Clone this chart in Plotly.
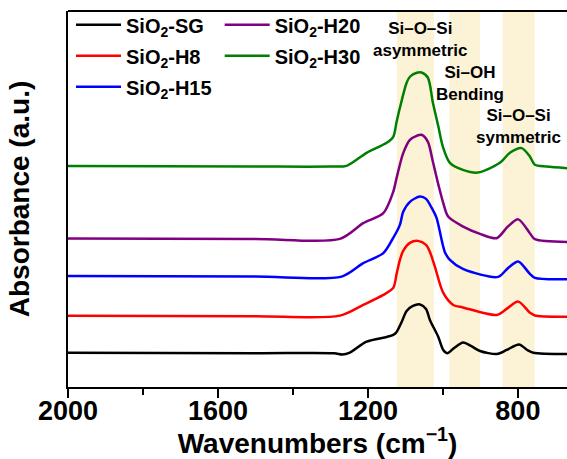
import plotly.graph_objects as go

# ---------------- data ----------------
names = ["SiO<sub>2</sub>-SG", "SiO<sub>2</sub>-H8", "SiO<sub>2</sub>-H15",
         "SiO<sub>2</sub>-H20", "SiO<sub>2</sub>-H30"]
colors = ["#000000", "#ff0000", "#0000ff", "#800080", "#008000"]

wn_sg = [2000, 1500, 1290, 1268, 1250, 1203.5, 1150, 1132.5, 1123.5, 1110, 1096.8, 1080, 1061,
         1045, 1034.7, 1012.5, 999, 988, 970, 946, 925, 901, 856, 830, 797, 775, 759, 669]
ab_sg = [0.343, 0.337, 0.337, 0.325, 0.34, 0.453, 0.50, 0.52, 0.55, 0.65, 0.76, 0.81, 0.825,
         0.78, 0.67, 0.503, 0.37, 0.337, 0.39, 0.445, 0.41, 0.36, 0.33, 0.37, 0.425, 0.37, 0.343, 0.33]

wn_h8 = [2000, 1500, 1274.7, 1212.5, 1159, 1132.5, 1123.5, 1114.7, 1105.9, 1088, 1066.7, 1045,
         1034.7, 1022, 999, 972.5, 946.7, 856.8, 830, 799, 768, 754.7, 669]
ab_h8 = [0.713, 0.707, 0.713, 0.82, 0.92, 0.99, 1.13, 1.27, 1.36, 1.44, 1.46, 1.42,
         1.35, 1.21, 0.94, 0.82, 0.795, 0.72, 0.78, 0.853, 0.743, 0.715, 0.703]

wn_h15 = [2000, 1500, 1270, 1212.5, 1159, 1132.5, 1114.7, 1105.9, 1088, 1061.3, 1045, 1030,
          1017, 995, 981.3, 946.7, 853, 826, 799, 768, 754.7, 669]
ab_h15 = [1.11, 1.103, 1.103, 1.237, 1.337, 1.49, 1.62, 1.75, 1.85, 1.903, 1.88, 1.79,
          1.69, 1.35, 1.27, 1.18, 1.10, 1.19, 1.255, 1.13, 1.09, 1.077]

wn_h20 = [2000, 1500, 1274.7, 1212.5, 1159, 1132.5, 1123.5, 1105.9, 1088, 1070, 1056.8, 1040,
          1026.7, 1012, 999, 986, 946, 901, 856.8, 826.7, 799, 768, 754.7, 669]
ab_h20 = [1.483, 1.48, 1.48, 1.637, 1.737, 1.95, 2.09, 2.337, 2.47, 2.51, 2.52, 2.45,
          2.25, 2.02, 1.837, 1.703, 1.603, 1.53, 1.487, 1.603, 1.675, 1.537, 1.477, 1.45]

wn_h30 = [2000, 1500, 1300, 1257, 1203.5, 1150, 1132.5, 1123.5, 1114.7, 1096.8, 1088, 1070,
          1056.8, 1040, 1026.7, 1012, 1000, 981.3, 946.7, 906.7, 848, 821.3, 790, 768, 754.7,
          723.5, 669]
ab_h30 = [2.207, 2.203, 2.203, 2.21, 2.34, 2.44, 2.50, 2.65, 2.79, 3.04, 3.10, 3.14,
          3.143, 3.09, 2.84, 2.60, 2.40, 2.24, 2.17, 2.143, 2.24, 2.34, 2.387, 2.303, 2.22,
          2.203, 2.187]

band_lo = [1024, 901, 755]
band_hi = [1123, 983, 841]

label_text = ["Si–O–Si<br>asymmetric", "Si–OH<br>Bending", "Si–O–Si<br>symmetric"]
label_wn = [1061, 928, 798]
label_ab = [3.47, 3.035, 2.6]

x_ticks = [2000, 1600, 1200, 800]

# ---------------- figure ----------------
FONT = "Liberation Sans, Arial, sans-serif"
series_wn = [wn_sg, wn_h8, wn_h15, wn_h20, wn_h30]
series_ab = [ab_sg, ab_h8, ab_h15, ab_h20, ab_h30]
legend_of = ["legend", "legend", "legend", "legend2", "legend2"]

fig = go.Figure()
for i in range(5):
    fig.add_trace(go.Scatter(
        x=series_wn[i], y=series_ab[i], mode="lines", name=names[i],
        line=dict(color=colors[i], width=2.5, shape="spline", smoothing=0.8),
        legend=legend_of[i], legendgroup=str(i),
    ))

for lo, hi in zip(band_lo, band_hi):
    fig.add_shape(type="rect", xref="x", yref="paper", x0=hi, x1=lo, y0=0, y1=1,
                  fillcolor="rgb(252,243,214)", line=dict(width=0), layer="below")

# top frame line
fig.add_shape(type="line", xref="paper", yref="paper", x0=0, x1=1, y0=1, y1=1,
              line=dict(color="black", width=2))

for t, xw, ya in zip(label_text, label_wn, label_ab):
    fig.add_annotation(x=xw, y=ya, xref="x", yref="y", text=t, showarrow=False,
                       font=dict(family=FONT, size=17, color="black", weight="bold"),
                       align="center")

legend_common = dict(
    bgcolor="rgba(0,0,0,0)", borderwidth=0,
    font=dict(family=FONT, size=20, color="black", weight="bold"),
    orientation="v", xanchor="left", yanchor="top", itemwidth=45,
    tracegroupgap=2,
)
fig.update_layout(
    width=567, height=459,
    margin=dict(l=68, r=0, t=11, b=72, pad=0, autoexpand=False),
    paper_bgcolor="white", plot_bgcolor="white",
    showlegend=True,
    legend=dict(x=0.006, y=1.015, **legend_common),
    legend2=dict(x=0.304, y=1.015, **legend_common),
    xaxis=dict(
        range=[2000, 669], autorange=False,
        tickvals=x_ticks, ticktext=[str(v) for v in x_ticks],
        ticks="outside", ticklen=9, tickwidth=2, tickcolor="black",
        ticklabelstandoff=-10,
        minor=dict(tickvals=[1800, 1400, 1000], ticks="outside", ticklen=6,
                   tickwidth=2, tickcolor="black"),
        showline=True, linewidth=2, linecolor="black", mirror=False,
        showgrid=False, zeroline=False, automargin=False,
        tickfont=dict(family=FONT, size=27, color="black", weight="bold"),
        title=dict(text="Wavenumbers (cm<sup>−1</sup>)", standoff=2,
                   font=dict(family=FONT, size=28, color="black", weight="bold")),
    ),
    yaxis=dict(
        range=[0, 3.757], autorange=False,
        showticklabels=False, ticks="",
        showline=True, linewidth=2, linecolor="black", mirror=False,
        showgrid=False, zeroline=False, automargin=False,
        title=dict(text="Absorbance (a.u.)", standoff=28,
                   font=dict(family=FONT, size=28, color="black", weight="bold")),
    ),
)

fig.write_html("out.html", config={"displayModeBar": False},
               post_script="document.body.style.margin='0';document.body.style.overflow='hidden';")
